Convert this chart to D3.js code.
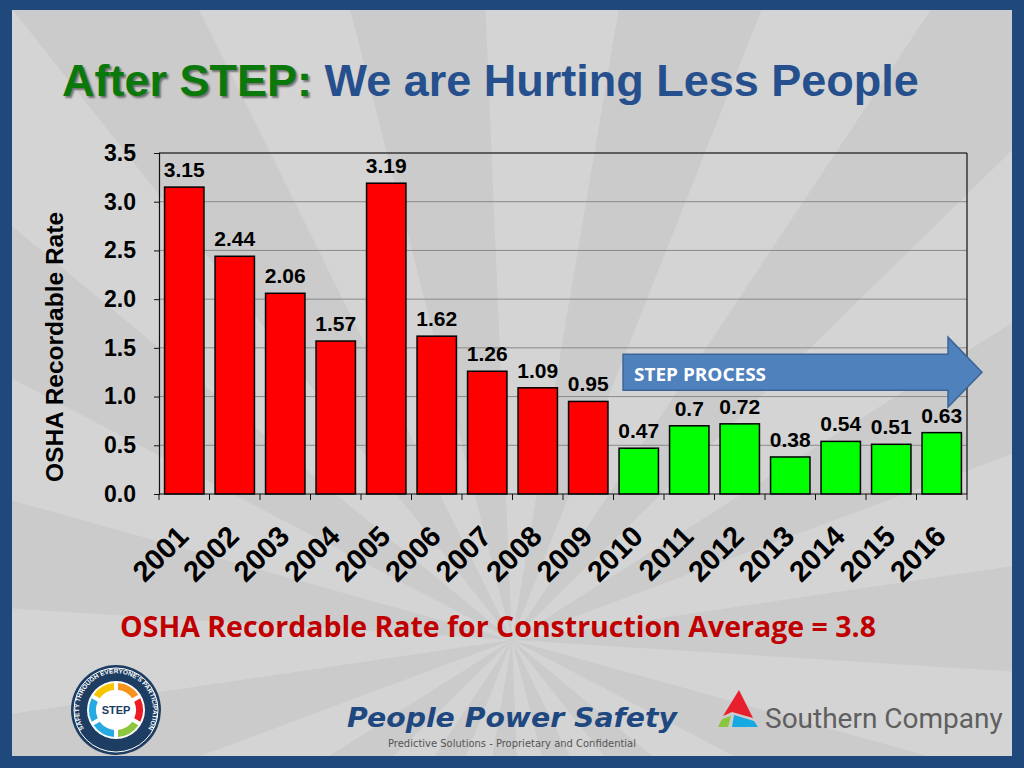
<!DOCTYPE html>
<html>
<head>
<meta charset="utf-8">
<script src="https://cdn.jsdelivr.net/npm/d3@7/dist/d3.min.js"></script>
<style>
  html, body { margin: 0; padding: 0; background: #1f497d; }
  svg { display: block; }
</style>
</head>
<body>
<script>
var w = 1024;
var h = 768;

// chart data
var years = ['2001', '2002', '2003', '2004', '2005', '2006', '2007', '2008',
             '2009', '2010', '2011', '2012', '2013', '2014', '2015', '2016'];
var rates = [3.15, 2.44, 2.06, 1.57, 3.19, 1.62, 1.26, 1.09,
             0.95, 0.47, 0.7, 0.72, 0.38, 0.54, 0.51, 0.63];
var rateLabels = ['3.15', '2.44', '2.06', '1.57', '3.19', '1.62', '1.26', '1.09',
                  '0.95', '0.47', '0.7', '0.72', '0.38', '0.54', '0.51', '0.63'];
var yTicks = [0, 0.5, 1, 1.5, 2, 2.5, 3, 3.5];
var stepStart = 2010;

var svg = d3.select('body')
   .append('svg')
   .attr('width', w)
   .attr('height', h);

// blue frame + gray slide panel
svg.append('rect').attr('width', w).attr('height', h).attr('fill', '#1f497d');
var clip = svg.append('clipPath').attr('id', 'panel');
clip.append('rect').attr('x', 12).attr('y', 10).attr('width', 1000).attr('height', 746);
svg.append('rect')
   .attr('x', 12).attr('y', 10).attr('width', 1000).attr('height', 746)
   .attr('fill', '#cbcbcb');

// sunburst rays
var rays = svg.append('g').attr('clip-path', 'url(#panel)');
var cx = 512, cy = 640, R = 1400, nRays = 30;
for (var i = 0; i < nRays; i++) {
   if (i % 2) continue;
   var a0 = (i + 0.3) / nRays * 2 * Math.PI, a1 = (i + 1.3) / nRays * 2 * Math.PI;
   rays.append('path')
      .attr('d', 'M' + cx + ',' + cy +
         'L' + (cx + R * Math.cos(a0)) + ',' + (cy + R * Math.sin(a0)) +
         'L' + (cx + R * Math.cos(a1)) + ',' + (cy + R * Math.sin(a1)) + 'Z')
      .attr('fill', '#dcdcdc')
      .attr('opacity', 0.55);
}

// title
var title = svg.append('text')
   .attr('x', 62).attr('y', 96)
   .attr('font-family', 'Liberation Sans, Arial, sans-serif')
   .attr('font-weight', 'bold')
   .attr('font-size', '45px');
title.append('tspan')
   .attr('fill', '#0b780b')
   .attr('style', 'text-shadow: 2px 2px 2px rgba(0,0,0,0.45)')
   .text('After STEP:');
title.append('tspan')
   .attr('fill', '#26508d')
   .text(' We are Hurting Less People');

// chart area
var plotL = 159, plotR = 967, plotT = 153, plotB = 494;

var x = d3.scaleBand()
   .domain(years)
   .range([plotL, plotR])
   .paddingInner(0.22)
   .paddingOuter(0.11);

var y = d3.scaleLinear()
   .domain([0, 3.5])
   .range([plotB, plotT]);

// gridlines
svg.append('g')
   .selectAll('line')
   .data(yTicks.slice(1))
   .enter()
   .append('line')
   .attr('x1', plotL).attr('x2', plotR)
   .attr('y1', function(d) { return y(d); })
   .attr('y2', function(d) { return y(d); })
   .attr('stroke', '#8a8a8a')
   .attr('stroke-width', 1);

// frame top + right
svg.append('line')
   .attr('x1', plotR).attr('x2', plotR)
   .attr('y1', plotT).attr('y2', plotB)
   .attr('stroke', '#111').attr('stroke-width', 1.2);
svg.append('line')
   .attr('x1', plotL).attr('x2', plotR)
   .attr('y1', plotT).attr('y2', plotT)
   .attr('stroke', '#111').attr('stroke-width', 1.2);

// bars
svg.selectAll('rect.bar')
   .data(rates)
   .enter()
   .append('rect')
   .attr('class', 'bar')
   .attr('x', function(d, i) { return x(years[i]); })
   .attr('y', function(d) { return y(d); })
   .attr('width', x.bandwidth())
   .attr('height', function(d) { return plotB - y(d); })
   .attr('fill', function(d, i) { return +years[i] >= stepStart ? '#00ff00' : '#ff0000'; })
   .attr('stroke', '#000')
   .attr('stroke-width', 1.5);

// value labels
svg.selectAll('text.val')
   .data(rates)
   .enter()
   .append('text')
   .attr('class', 'val')
   .attr('x', function(d, i) { return x(years[i]) + x.bandwidth() / 2; })
   .attr('y', function(d) { return y(d) - 10; })
   .attr('text-anchor', 'middle')
   .attr('font-family', 'Liberation Sans, Arial, sans-serif')
   .attr('font-weight', 'bold')
   .attr('font-size', '21px')
   .attr('fill', '#000')
   .text(function(d, i) { return rateLabels[i]; });

// y axis
var yAxis = svg.append('g')
   .attr('transform', 'translate(' + plotL + ',0)')
   .call(d3.axisLeft(y).tickValues(yTicks).tickFormat(d3.format('.1f')).tickSize(5).tickPadding(18));
yAxis.select('.domain').attr('stroke', '#111').attr('stroke-width', 1.2);
yAxis.selectAll('.tick line').attr('stroke', '#111');
yAxis.selectAll('text')
   .attr('font-family', 'Liberation Sans, Arial, sans-serif')
   .attr('font-weight', 'bold')
   .attr('font-size', '23px')
   .attr('fill', '#000');

// x axis: ticks at band boundaries
var step = x.step();
var bounds = years.map(function(d) { return x(d) - x.paddingInner() * step / 2; });
bounds.push(plotR);
svg.append('line')
   .attr('x1', plotL).attr('x2', plotR)
   .attr('y1', plotB).attr('y2', plotB)
   .attr('stroke', '#111').attr('stroke-width', 1.2);
svg.append('g')
   .selectAll('line')
   .data(bounds)
   .enter()
   .append('line')
   .attr('x1', function(d) { return d; })
   .attr('x2', function(d) { return d; })
   .attr('y1', plotB).attr('y2', plotB + 6)
   .attr('stroke', '#111');

svg.append('g')
   .selectAll('text')
   .data(years)
   .enter()
   .append('text')
   .attr('transform', function(d) {
      return 'translate(' + (x(d) + x.bandwidth() / 2 + 6) + ',' + 538 + ') rotate(-45)';
   })
   .attr('text-anchor', 'end')
   .attr('font-family', 'Liberation Sans, Arial, sans-serif')
   .attr('font-weight', 'bold')
   .attr('font-size', '29px')
   .attr('fill', '#000')
   .text(function(d) { return d; });

// y axis title
svg.append('text')
   .attr('transform', 'translate(63,347) rotate(-90)')
   .attr('text-anchor', 'middle')
   .attr('font-family', 'Liberation Sans, Arial, sans-serif')
   .attr('font-weight', 'bold')
   .attr('font-size', '24.5px')
   .attr('fill', '#000')
   .text('OSHA Recordable Rate');

// STEP PROCESS arrow
var ax0 = x('2010') + 4, ax1 = plotR + 15, ahx = ax1 - 34;
var ay = y(1.25), bh = 18, hh = 35;
svg.append('path')
   .attr('d', 'M' + ax0 + ',' + (ay - bh) + 'L' + ahx + ',' + (ay - bh) +
      'L' + ahx + ',' + (ay - hh) + 'L' + ax1 + ',' + ay +
      'L' + ahx + ',' + (ay + hh) + 'L' + ahx + ',' + (ay + bh) +
      'L' + ax0 + ',' + (ay + bh) + 'Z')
   .attr('fill', '#4f81bd')
   .attr('stroke', '#3a6595')
   .attr('stroke-width', 1.5);
svg.append('text')
   .attr('x', ax0 + 11).attr('y', ay + 9)
   .attr('font-family', 'Open Sans, sans-serif')
   .attr('font-weight', 'bold')
   .attr('font-size', '17px')
   .attr('fill', '#fff')
   .attr('textLength', 132)
   .attr('lengthAdjust', 'spacingAndGlyphs')
   .text('STEP PROCESS');

// construction average note
svg.append('text')
   .attr('x', 120).attr('y', 637)
   .attr('font-family', 'Open Sans, sans-serif')
   .attr('font-weight', 'bold')
   .attr('font-size', '28px')
   .attr('fill', '#c00000')
   .attr('textLength', 756)
   .attr('lengthAdjust', 'spacingAndGlyphs')
   .text('OSHA Recordable Rate for Construction Average = 3.8');

// footer
svg.append('text')
   .attr('x', 347).attr('y', 727)
   .attr('font-family', 'DejaVu Sans, sans-serif')
   .attr('font-weight', 'bold')
   .attr('font-style', 'italic')
   .attr('font-size', '27px')
   .attr('fill', '#1f4780')
   .attr('textLength', 330)
   .attr('lengthAdjust', 'spacingAndGlyphs')
   .text('People Power Safety');
svg.append('text')
   .attr('x', 388).attr('y', 747)
   .attr('font-family', 'DejaVu Sans, sans-serif')
   .attr('font-size', '10.5px')
   .attr('fill', '#555')
   .attr('textLength', 248)
   .attr('lengthAdjust', 'spacingAndGlyphs')
   .text('Predictive Solutions - Proprietary and Confidential');

// Southern Company logo
var logo = svg.append('g').attr('transform', 'translate(718,690)');
logo.append('path').attr('d', 'M21,0 L35,28 L14,22 L5,26 Z').attr('fill', '#e8202e');
logo.append('path').attr('d', 'M16,25 L36,31 L40,37 L14,37 Z').attr('fill', '#17a9e1');
logo.append('path').attr('d', 'M4,29 L13,26 L10,37 L0,37 Z').attr('fill', '#8cc63f');
svg.append('text')
   .attr('x', 765).attr('y', 728)
   .attr('font-family', 'Roboto, Liberation Sans, sans-serif')
   .attr('font-size', '28px')
   .attr('fill', '#5f5f5f')
   .text('Southern Company');

// STEP badge
var badge = svg.append('g').attr('transform', 'translate(116,710)');
badge.append('circle').attr('r', 45).attr('fill', '#1d3d63');
badge.append('circle').attr('r', 42).attr('fill', 'none').attr('stroke', '#fff').attr('stroke-width', 1);
badge.append('circle').attr('r', 29).attr('fill', '#fff');
var ringCols = ['#f7941d', '#ed1c24', '#8dc63f', '#27aae1', '#27aae1', '#f7c600'];
var arc = d3.arc().innerRadius(20).outerRadius(27);
var pie = d3.pie().value(1).sort(null).padAngle(0.12);
badge.selectAll('path.ring')
   .data(pie(ringCols))
   .enter()
   .append('path')
   .attr('d', arc)
   .attr('fill', function(d) { return d.data; });
badge.append('circle').attr('r', 18).attr('fill', '#fff');
badge.append('text')
   .attr('y', 4).attr('text-anchor', 'middle')
   .attr('font-family', 'Liberation Sans, Arial, sans-serif')
   .attr('font-weight', 'bold').attr('font-size', '11px')
   .attr('fill', '#1d3d63')
   .text('STEP');
badge.append('path')
   .attr('id', 'badgeArc')
   .attr('d', 'M-22,30 A37,37 0 1,1 22,30')
   .attr('fill', 'none');
badge.append('text')
   .attr('font-family', 'Liberation Sans, Arial, sans-serif')
   .attr('font-weight', 'bold').attr('font-size', '6.5px')
   .attr('fill', '#fff')
   .append('textPath')
   .attr('href', '#badgeArc')
   .attr('startOffset', '50%')
   .attr('text-anchor', 'middle')
   .text("SAFETY THROUGH EVERYONE'S PARTICIPATION");
</script>
</body>
</html>
